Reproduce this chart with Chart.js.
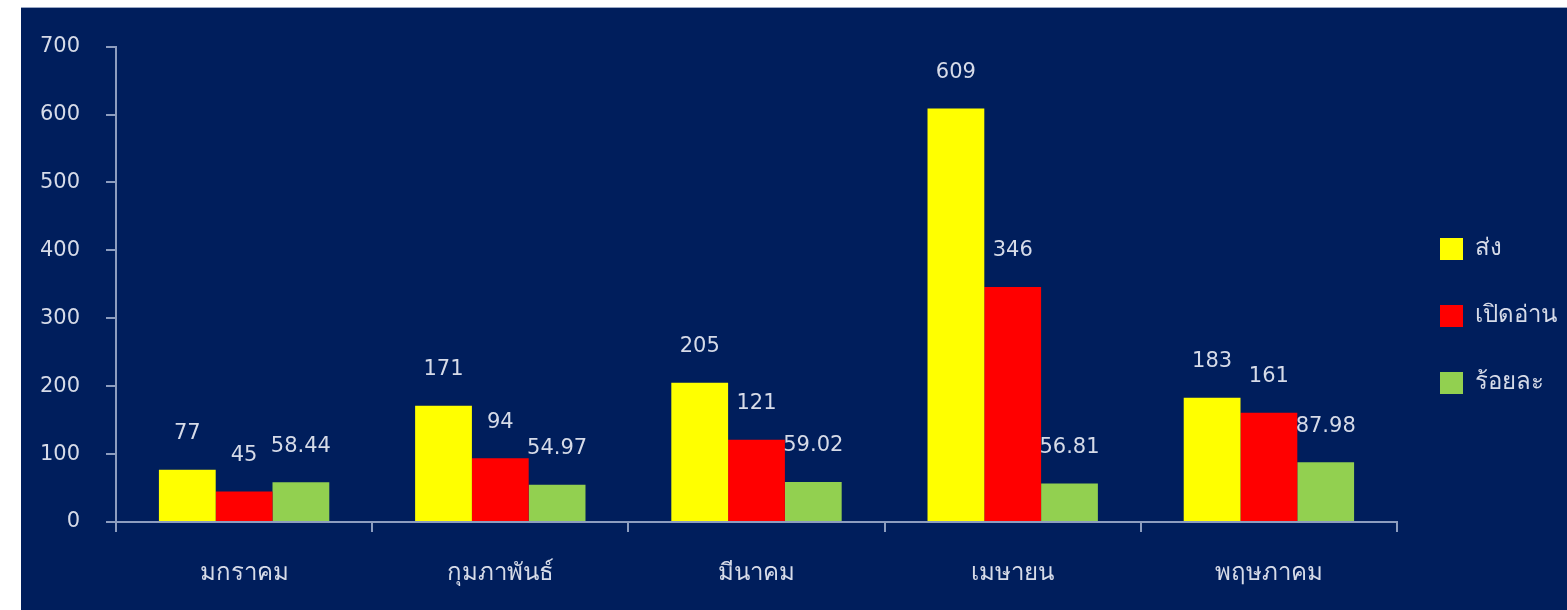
<!DOCTYPE html>
<html>
<head>
<meta charset="utf-8">
<title>chart</title>
<script src="https://cdn.jsdelivr.net/npm/chart.js@4"></script>
<style>
    body { margin: 0; background: #ffffff; }
    #box {
        position: absolute; left: 21px; top: 7px;
        width: 1546px; height: 602px;
        background: #001e5c;
        border-top: 1px solid #9aa8c4;
    }
</style>
</head>
<body>
<div id="box"><canvas id="chartCanvas"></canvas></div>
<script>
// Datos del grafico
const months = ["มกราคม", "กุมภาพันธ์", "มีนาคม", "เมษายน", "พฤษภาคม"];
const sent = [77, 171, 205, 609, 183];
const opened = [45, 94, 121, 346, 161];
const percent = [58.44, 54.97, 59.02, 56.81, 87.98];
const seriesNames = ["ส่ง", "เปิดอ่าน", "ร้อยละ"];

const textColor = "#d6dbe8";
const axisColor = "#8d9dbf";
const fontFamily = '"DejaVu Sans", sans-serif';

// Etiquetas de valor encima de cada barra
const valueLabels = {
    id: "valueLabels",
    afterDatasetsDraw(chart) {
        const ctx = chart.ctx;
        ctx.save();
        ctx.font = "21px " + fontFamily;
        ctx.fillStyle = textColor;
        ctx.textAlign = "center";
        ctx.textBaseline = "middle";
        chart.data.datasets.forEach((ds, i) => {
            chart.getDatasetMeta(i).data.forEach((bar, j) => {
                ctx.fillText(String(ds.data[j]), bar.x, bar.y - 36);
            });
        });
        ctx.restore();
    }
};

const chartCanvas = document.getElementById("chartCanvas");

new Chart(chartCanvas, {
    type: "bar",
    data: {
        labels: months,
        datasets: [
            { label: seriesNames[0], data: sent, backgroundColor: "#ffff00" },
            { label: seriesNames[1], data: opened, backgroundColor: "#ff0000" },
            { label: seriesNames[2], data: percent, backgroundColor: "#92d050" }
        ]
    },
    options: {
        responsive: true,
        maintainAspectRatio: false,
        animation: false,
        layout: { padding: { top: 38, right: 0, bottom: 24, left: 0 } },
        datasets: { bar: { categoryPercentage: 0.665, barPercentage: 1 } },
        plugins: {
            legend: {
                position: "right",
                labels: {
                    color: textColor,
                    font: { size: 24, family: fontFamily },
                    boxWidth: 23,
                    boxHeight: 22,
                    padding: 43
                }
            },
            tooltip: { enabled: false }
        },
        scales: {
            x: {
                grid: { drawOnChartArea: false, tickLength: 10, color: axisColor, lineWidth: 2 },
                border: { color: axisColor, width: 2 },
                ticks: { color: textColor, font: { size: 24, family: fontFamily }, padding: 27 },
                afterFit(scale) { scale.height = 64; }
            },
            y: {
                min: 0,
                max: 700,
                grid: { drawOnChartArea: false, tickLength: 10, color: axisColor, lineWidth: 2 },
                border: { color: axisColor, width: 2 },
                ticks: { stepSize: 100, color: textColor, font: { size: 21, family: fontFamily }, padding: 26 },
                afterFit(scale) { scale.width = 95; }
            }
        }
    },
    plugins: [valueLabels]
});
</script>
</body>
</html>
